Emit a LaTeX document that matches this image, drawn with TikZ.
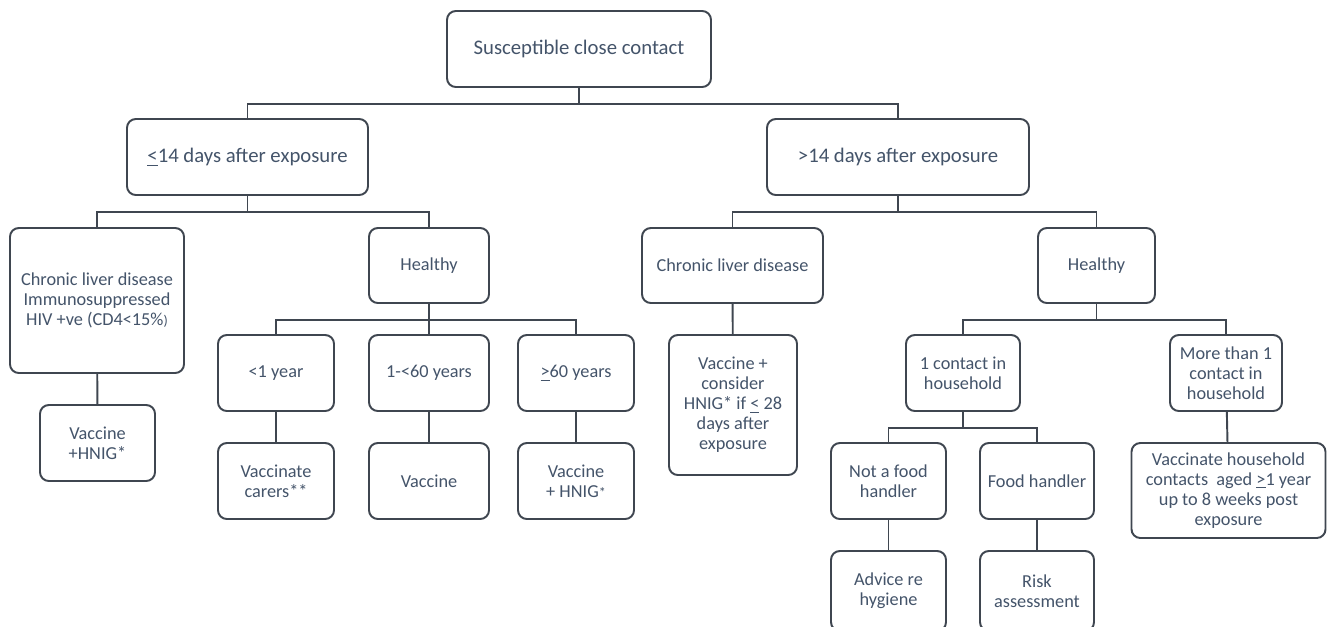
\documentclass[tikz,border=0pt]{standalone}
\usepackage{fontspec}
\setmainfont{Carlito}
\usepackage{tikz}
\usetikzlibrary{positioning,calc}

\definecolor{txtblue}{HTML}{44546A}
\definecolor{lineg}{HTML}{3F4650}

\begin{document}
\begin{tikzpicture}[x=0.02cm, y=-0.02cm,
    box/.style = {draw=lineg, line width=1.1pt, rounded corners=5pt,
      fill=white, text=txtblue, align=center,
      font=\fontsize{10.4}{11.4}\selectfont, inner sep=2pt},
    topbox/.style = {box, font=\fontsize{11.8}{13}\selectfont},
    link/.style = {draw=lineg, line width=1.1pt}]
  \useasboundingbox (0,0) rectangle (1327,626);

  % root
  \node[topbox, minimum width=264*0.02cm, minimum height=76*0.02cm]
    (root) at (579,49) {Susceptible close contact};

  % time since exposure
  \node[topbox, minimum width=241*0.02cm, minimum height=76*0.02cm]
    (early) at (247.5,157) {\underline{<}14 days after exposure};
  \node[topbox, minimum width=262*0.02cm, minimum height=76*0.02cm]
    (late) at (898,157) {>14 days after exposure};

  % early branch
  \node[box, minimum width=174*0.02cm, minimum height=145*0.02cm]
    (ecld) at (97,300.5) {Chronic liver disease\\Immunosuppressed\\HIV +ve (CD4<15\%{\footnotesize)}};
  \node[box, minimum width=120*0.02cm, minimum height=75*0.02cm]
    (ehealthy) at (429,265.5) {Healthy};
  \node[box, minimum width=115*0.02cm, minimum height=76*0.02cm]
    (evac) at (97.5,443) {Vaccine\\+HNIG*};

  % age groups
  \node[box, minimum width=116*0.02cm, minimum height=76*0.02cm]
    (infant) at (276,373) {<1 year};
  \node[box, minimum width=120*0.02cm, minimum height=76*0.02cm]
    (adult) at (429,373) {1-<60 years};
  \node[box, minimum width=116*0.02cm, minimum height=76*0.02cm]
    (older) at (576,373) {\underline{>}60 years};
  \node[box, minimum width=116*0.02cm, minimum height=76*0.02cm]
    (carers) at (276,481) {Vaccinate\\carers**};
  \node[box, minimum width=120*0.02cm, minimum height=76*0.02cm]
    (avac) at (429,481) {Vaccine};
  \node[box, minimum width=116*0.02cm, minimum height=76*0.02cm]
    (ovac) at (576,481) {Vaccine\\+ HNIG{\footnotesize*}};

  % late branch
  \node[box, minimum width=181*0.02cm, minimum height=75*0.02cm]
    (lcld) at (732.5,265.5) {Chronic liver disease};
  \node[box, minimum width=117*0.02cm, minimum height=75*0.02cm]
    (lhealthy) at (1096.5,265.5) {Healthy};
  \node[box, minimum width=128*0.02cm, minimum height=140*0.02cm]
    (lvac) at (733,405) {Vaccine +\\consider\\HNIG* if \underline{<} 28\\days after\\exposure};

  % household
  \node[box, minimum width=114*0.02cm, minimum height=76*0.02cm]
    (single) at (963,373) {1 contact in\\household};
  \node[box, minimum width=112*0.02cm, minimum height=76*0.02cm]
    (multi) at (1226,373) {More than 1\\contact in\\household};
  \node[box, minimum width=115*0.02cm, minimum height=76*0.02cm]
    (nofood) at (888.5,481) {Not a food\\handler};
  \node[box, minimum width=114*0.02cm, minimum height=76*0.02cm]
    (food) at (1037,481) {Food handler};
  \node[box, minimum width=115*0.02cm, minimum height=80*0.02cm]
    (hygiene) at (888.5,591) {Advice re\\hygiene};
  \node[box, minimum width=114*0.02cm, minimum height=80*0.02cm]
    (risk) at (1037,591) {Risk\\assessment};
  \node[box, minimum width=194*0.02cm, minimum height=95*0.02cm]
    (mvac) at (1228.5,490.5) {Vaccinate household\\contacts~ aged \underline{>}1 year\\up to 8 weeks post\\exposure};

  % connectors
  \draw[link] (root.south) -- ++(0,16) coordinate (j1) -| (early.north);
  \draw[link] (j1) -| (late.north);
  \draw[link] (early.south) -- ++(0,16) coordinate (j2) -| (ecld.north);
  \draw[link] (j2) -| (ehealthy.north);
  \draw[link] (ecld) -- (evac);
  \draw[link] (ehealthy.south) -- ++(0,16) coordinate (j3) -| (infant.north);
  \draw[link] (j3) -| (older.north);
  \draw[link] (ehealthy) -- (adult);
  \draw[link] (infant) -- (carers);
  \draw[link] (adult) -- (avac);
  \draw[link] (older) -- (ovac);
  \draw[link] (late.south) -- ++(0,16) coordinate (j4) -| (lcld.north);
  \draw[link] (j4) -| (lhealthy.north);
  \draw[link] (lcld) -- (lvac);
  \draw[link] (lhealthy.south) -- ++(0,16) coordinate (j5) -| (single.north);
  \draw[link] (j5) -| (multi.north);
  \draw[link] (single.south) -- ++(0,16) coordinate (j6) -| (nofood.north);
  \draw[link] (j6) -| (food.north);
  \draw[link] (nofood) -- (hygiene);
  \draw[link] (food) -- (risk);
  \draw[link] (multi) -- (mvac);
\end{tikzpicture}
\end{document}
